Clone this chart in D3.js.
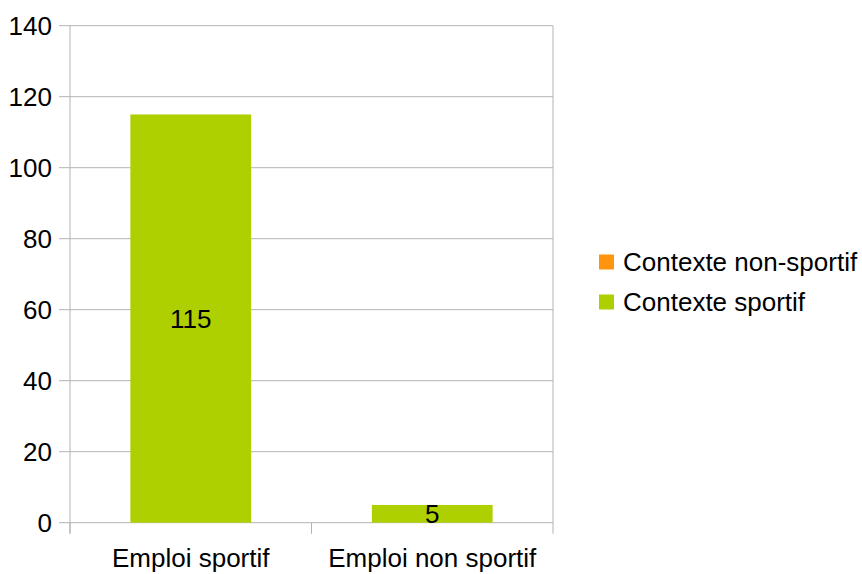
<!DOCTYPE html>
<html>
<head>
<meta charset="utf-8">
<script src="https://cdn.jsdelivr.net/npm/d3@7"></script>
<style>
  body { margin: 0; background: #fff; }
  text { font-family: "Liberation Sans", Arial, sans-serif; fill: #000; }
</style>
</head>
<body>
<svg id="chart" width="862" height="574"></svg>
<script>
// donnees
var categories = ["Emploi sportif", "Emploi non sportif"];
var seriesNames = ["Contexte non-sportif", "Contexte sportif"];
var sportif = [115, 5];
var nonSportif = [0, 0];
var yTicks = [0, 20, 40, 60, 80, 100, 120, 140];
var colors = {"Contexte non-sportif": "#ff950e", "Contexte sportif": "#aecf00"};

var svg = d3.select("#chart");
var pLeft = 70, pRight = 553, pTop = 25.7, pBottom = 522.7;
var grid = "#b3b3b3";
var fs = "26px";

var x = d3.scaleBand().domain(categories).range([pLeft, pRight]).paddingInner(0.5).paddingOuter(0.25);
var y = d3.scaleLinear().domain([0, 140]).range([pBottom, pTop]);

// grille horizontale + petites graduations
svg.append("g").selectAll("line").data(yTicks).enter().append("line")
    .attr("x1", pLeft - 11).attr("x2", pRight)
    .attr("y1", function (d) { return y(d); }).attr("y2", function (d) { return y(d); })
    .attr("stroke", grid).attr("stroke-width", 1);

// axe vertical et graduations des categories
svg.append("line").attr("x1", pLeft).attr("x2", pLeft).attr("y1", pTop).attr("y2", pBottom + 11)
    .attr("stroke", grid);
var sep = [pLeft, (x(categories[0]) + x.bandwidth() + x(categories[1])) / 2, pRight];
svg.append("g").selectAll("line").data(sep).enter().append("line")
    .attr("x1", function (d) { return d; }).attr("x2", function (d) { return d; })
    .attr("y1", pBottom).attr("y2", pBottom + 11)
    .attr("stroke", grid);
svg.append("line").attr("x1", pRight).attr("x2", pRight).attr("y1", pTop).attr("y2", pBottom)
    .attr("stroke", grid);

// etiquettes axe y
svg.append("g").selectAll("text").data(yTicks).enter().append("text")
    .attr("x", 52).attr("y", function (d) { return y(d); })
    .attr("dy", "0.36em").attr("text-anchor", "end")
    .style("font-size", fs)
    .text(function (d) { return d; });

// etiquettes categories
svg.append("g").selectAll("text").data(categories).enter().append("text")
    .attr("x", function (d) { return x(d) + x.bandwidth() / 2; })
    .attr("y", 567)
    .attr("text-anchor", "middle")
    .style("font-size", fs)
    .text(function (d) { return d; });

// barres empilees
var rows = categories.map(function (c, i) {
    return {cat: c, "Contexte sportif": sportif[i], "Contexte non-sportif": nonSportif[i]};
});
var stack = d3.stack().keys(["Contexte sportif", "Contexte non-sportif"]);
var layers = stack(rows);

svg.append("g").selectAll("g").data(layers).enter().append("g")
    .attr("fill", function (d) { return colors[d.key]; })
    .selectAll("rect").data(function (d) { return d; }).enter().append("rect")
    .attr("x", function (d) { return x(d.data.cat); })
    .attr("width", x.bandwidth())
    .attr("y", function (d) { return y(d[1]); })
    .attr("height", function (d) { return y(d[0]) - y(d[1]); });

// valeurs dans les barres
svg.append("g").selectAll("text").data(layers[0]).enter().append("text")
    .attr("x", function (d) { return x(d.data.cat) + x.bandwidth() / 2; })
    .attr("y", function (d) { return (y(d[0]) + y(d[1])) / 2; })
    .attr("dy", "0.36em")
    .attr("text-anchor", "middle")
    .style("font-size", fs)
    .text(function (d) { return d[1] - d[0]; });

// legende
var leg = svg.append("g").selectAll("g").data(seriesNames).enter().append("g")
    .attr("transform", function (d, i) { return "translate(599," + (262 + i * 40) + ")"; });
leg.append("rect").attr("x", 0).attr("y", -7.5).attr("width", 15).attr("height", 15)
    .attr("fill", function (d) { return colors[d]; });
leg.append("text").attr("x", 24).attr("y", 0).attr("dy", "0.36em")
    .style("font-size", fs)
    .text(function (d) { return d; });
</script>
</body>
</html>
